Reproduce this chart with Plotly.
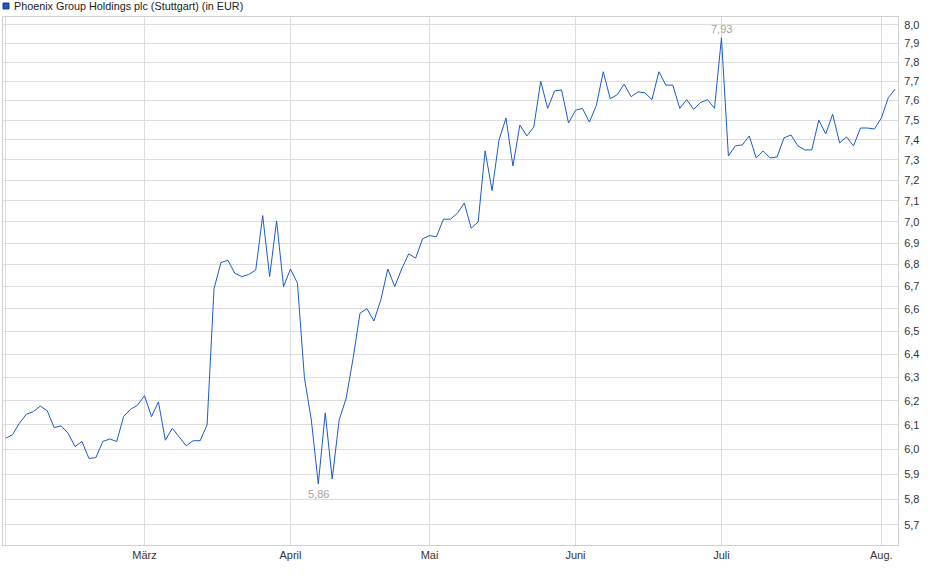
import math
import numpy as np
import plotly.graph_objects as go

# daily closing prices (trading days, 3 Feb - 5 Aug)
prices = [
    6.045, 6.059, 6.107, 6.144, 6.155, 6.178, 6.159, 6.089, 6.096, 6.066,
    6.011, 6.032, 5.963, 5.966, 6.032, 6.042, 6.032, 6.135, 6.165, 6.182,
    6.222, 6.134, 6.196, 6.037, 6.086, 6.050, 6.014, 6.035, 6.035, 6.100,
    6.690, 6.810, 6.820, 6.760, 6.745, 6.755, 6.775, 7.030, 6.745, 7.005,
    6.700, 6.780, 6.715, 6.300, 6.120, 5.860, 6.150, 5.880, 6.120, 6.210,
    6.380, 6.580, 6.600, 6.545, 6.640, 6.780, 6.700, 6.780, 6.850, 6.830,
    6.920, 6.935, 6.930, 7.013, 7.013, 7.040, 7.090, 6.970, 7.000, 7.345,
    7.150, 7.400, 7.510, 7.270, 7.475, 7.420, 7.465, 7.700, 7.560, 7.650,
    7.655, 7.485, 7.550, 7.560, 7.490, 7.575, 7.750, 7.610, 7.630, 7.685,
    7.620, 7.645, 7.640, 7.605, 7.750, 7.680, 7.680, 7.560, 7.605, 7.555,
    7.590, 7.605, 7.560, 7.930, 7.320, 7.370, 7.375, 7.420, 7.310, 7.345,
    7.310, 7.315, 7.410, 7.425, 7.370, 7.350, 7.350, 7.500, 7.430, 7.530,
    7.385, 7.415, 7.370, 7.460, 7.460, 7.455, 7.510, 7.615, 7.660,
]
days = list(range(len(prices)))

# first trading day of each month
month_pos = [0, 20, 41, 61, 82, 103, 126]
month_labels = ["", "März", "April", "Mai", "Juni", "Juli", "Aug."]

y_ticks = [round(5.7 + 0.1 * k, 1) for k in range(24)]
y_labels = [f"{v:.1f}".replace(".", ",") for v in y_ticks]

line_color = "#1a5cc8"
grid_color = "#dddddd"
font_family = "Liberation Sans, Arial, sans-serif"

fig = go.Figure()
fig.add_trace(go.Scatter(x=days, y=prices, mode="lines",
                         line=dict(color=line_color, width=1),
                         showlegend=False, hoverinfo="skip"))

i_max = int(np.argmax(prices))
i_min = int(np.argmin(prices))
for i, shift in [(i_max, 9), (i_min, -10)]:
    ylog = math.log10(prices[i])
    fig.add_shape(type="line", x0=i - 0.7, x1=i + 0.7, y0=ylog, y1=ylog,
                  xref="x", yref="y", line=dict(color="black", width=1))
    fig.add_annotation(x=i, y=ylog, text=f"{prices[i]:.2f}".replace(".", ","),
                       showarrow=False, yshift=shift, xanchor="center",
                       font=dict(size=11, color="#a4a4a4", family=font_family))

# legend box
fig.add_shape(type="rect", xref="paper", yref="paper",
              x0=0.0, x1=0.0067, y0=1.0152, y1=1.0265,
              line=dict(color="#1a3a80", width=1), fillcolor="#1f58c0")
fig.add_annotation(xref="paper", yref="paper", x=0.0105, y=1.0205,
                   xanchor="left", yanchor="middle", showarrow=False,
                   text="Phoenix Group Holdings plc (Stuttgart) (in EUR)",
                   font=dict(size=10.8, color="#222222", family=font_family))

fig.update_xaxes(range=[-0.36, 128.4], tickvals=month_pos, ticktext=month_labels,
                 showgrid=True, gridcolor=grid_color, gridwidth=1,
                 showline=True, linecolor="#d0d0d0", mirror=True,
                 zeroline=False, ticks="", automargin=False,
                 tickfont=dict(size=11, color="#333333", family=font_family))
fig.update_yaxes(type="log", range=[math.log10(5.623), math.log10(8.043)],
                 side="right", tickvals=y_ticks, ticktext=y_labels,
                 showgrid=True, gridcolor=grid_color, gridwidth=1,
                 showline=True, linecolor="#d0d0d0", mirror=True,
                 zeroline=False, ticks="", ticklabelstandoff=3, automargin=False,
                 tickfont=dict(size=11, color="#333333", family=font_family))

fig.update_layout(width=940, height=579,
                  margin=dict(l=3, r=42, t=17, b=34),
                  paper_bgcolor="white", plot_bgcolor="white",
                  font=dict(family=font_family))

# page body margin would shift the chart, so drop it
fig.write_html("out.html", config={"displayModeBar": False},
               post_script="document.body.style.margin='0px';")
